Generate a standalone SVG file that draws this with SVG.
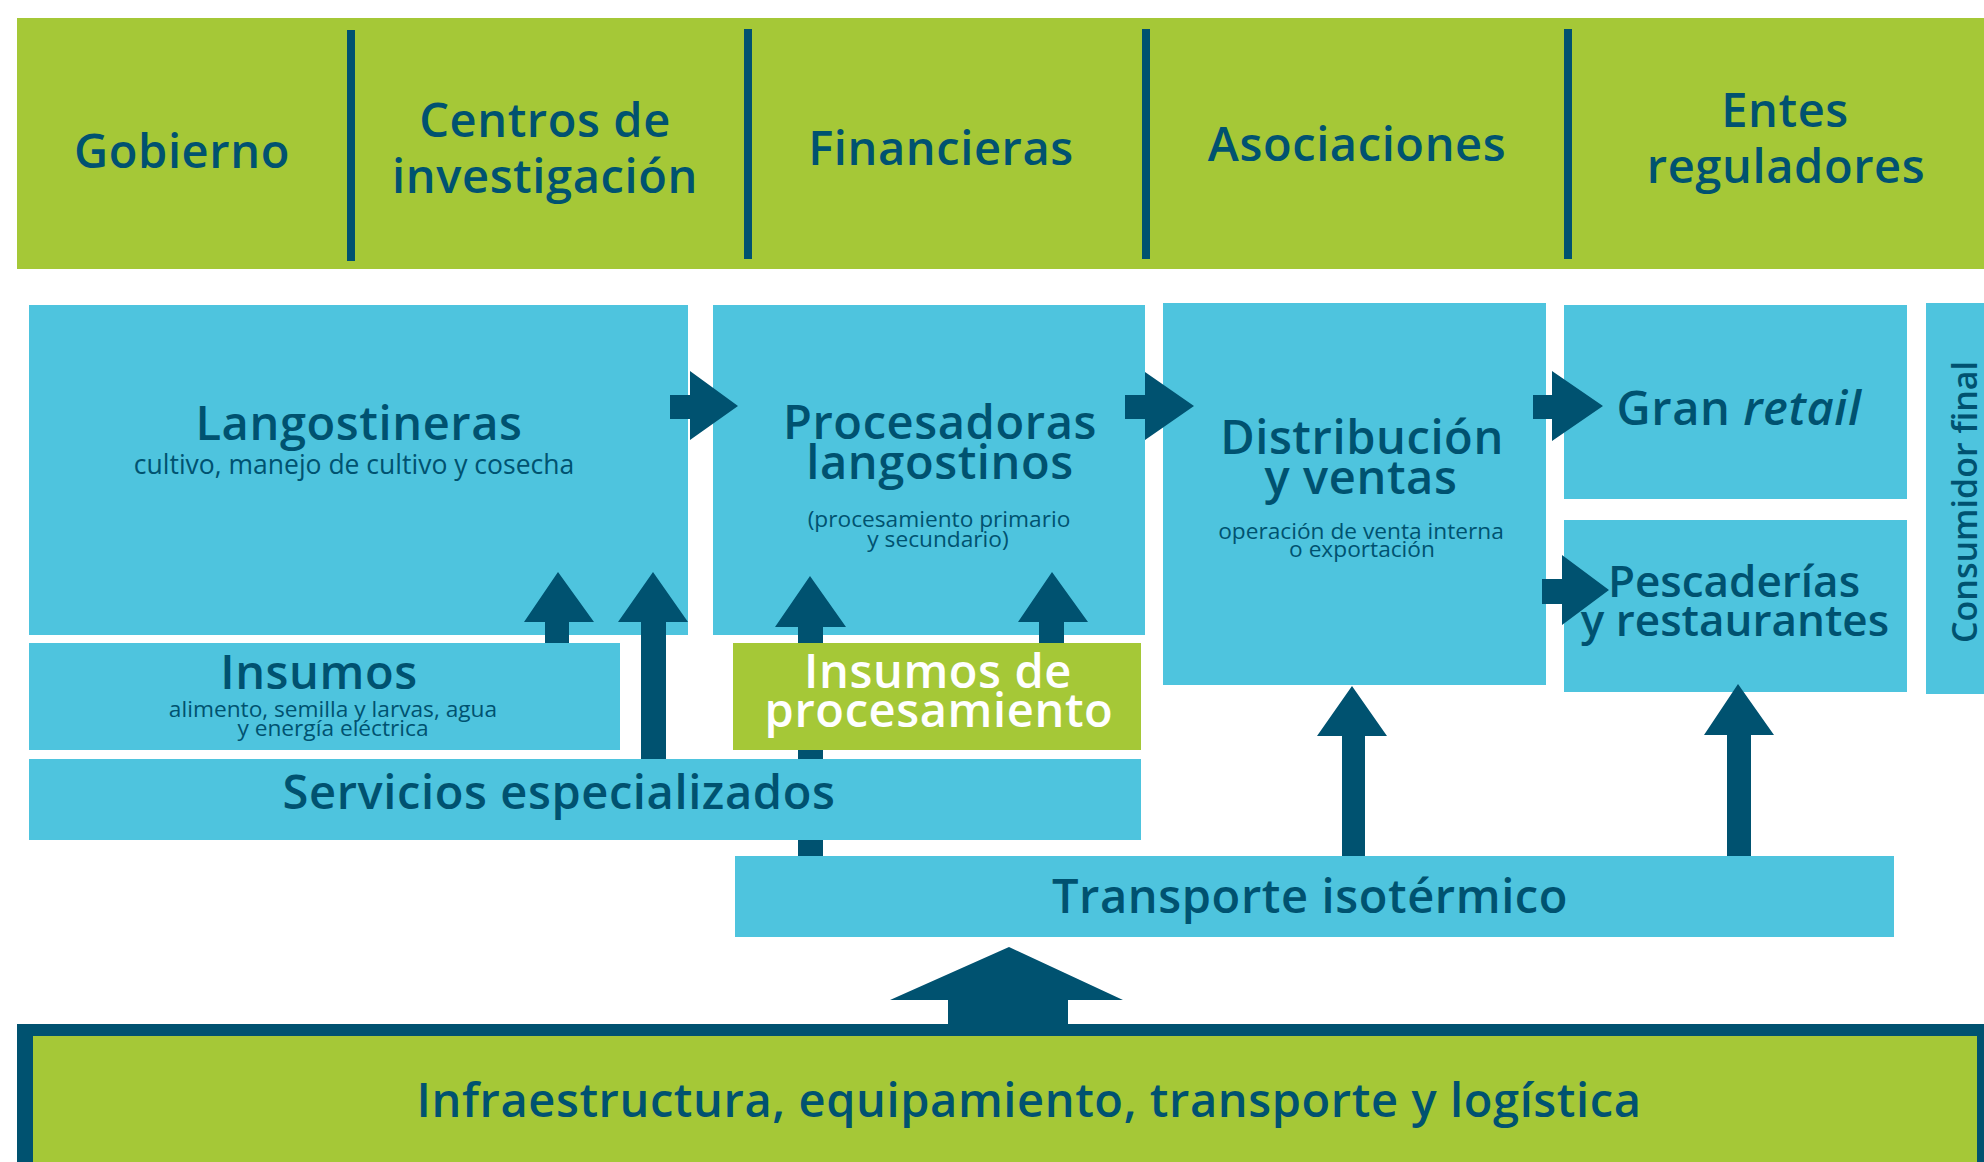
<svg xmlns="http://www.w3.org/2000/svg" width="1984" height="1162" viewBox="0 0 1984 1162">
<style>
.g{fill:#A5C837}
.c{fill:#4EC4DE}
.d{fill:#005270}
.t{font-family:"Open Sans","Noto Sans","Liberation Sans",sans-serif;font-weight:600;fill:#005270;text-anchor:middle}
.w{fill:#FFFFFF}
.s{font-family:"Open Sans","Noto Sans","Liberation Sans",sans-serif;font-weight:400;fill:#005270;text-anchor:middle}
.h{font-size:47px;letter-spacing:0.6px}
</style>
<rect x="0" y="0" width="1984" height="1162" fill="#FFFFFF"/>
<g id="actores">
<rect class="g" x="17" y="18" width="1967" height="251"/>
<rect class="d" x="347" y="30" width="8" height="231"/>
<rect class="d" x="744" y="29" width="8" height="230"/>
<rect class="d" x="1142" y="29" width="8" height="230"/>
<rect class="d" x="1564" y="29" width="8" height="230"/>
<text class="t h" x="182" y="168">Gobierno</text>
<text class="t h" x="545" y="137">Centros de<tspan x="545" dy="56">investigación</tspan></text>
<text class="t h" x="941" y="165">Financieras</text>
<text class="t h" x="1357" y="161">Asociaciones</text>
<text class="t h" x="1785" y="127">Entes<tspan x="1786" dy="56">reguladores</tspan></text>
</g>
<g id="langostineras">
<rect class="c" x="29" y="305" width="659" height="330"/>
<text class="t h" x="359" y="440">Langostineras</text>
<text class="s" x="354" y="474" font-size="26.5">cultivo, manejo de cultivo y cosecha</text>
</g>
<g id="procesadoras">
<rect class="c" x="713" y="305" width="432" height="330"/>
<text class="t h" x="940" y="439">Procesadoras<tspan x="940" dy="40">langostinos</tspan></text>
<text class="s" x="939" y="527" font-size="22.7">(procesamiento primario<tspan x="938" dy="20">y secundario)</tspan></text>
</g>
<g id="distribucion">
<rect class="c" x="1163" y="303" width="383" height="382"/>
<text class="t h" x="1362" y="454">Distribución<tspan x="1361" dy="40">y ventas</tspan></text>
<text class="s" x="1361" y="539" font-size="22.7">operación de venta interna<tspan x="1362" dy="18">o exportación</tspan></text>
</g>
<g id="gran-retail">
<rect class="c" x="1564" y="305" width="343" height="194"/>
<text class="t h" x="1739" y="425">Gran <tspan font-style="italic">retail</tspan></text>
</g>
<g id="pescaderias">
<rect class="c" x="1564" y="520" width="343" height="172"/>
<text class="t" font-size="44" x="1734" y="597">Pescaderías<tspan x="1735" dy="39">y restaurantes</tspan></text>
</g>
<g id="consumidor-final">
<rect class="c" x="1926" y="303" width="58" height="391"/>
<text class="t" font-size="34" transform="translate(1977,502) rotate(-90)">Consumidor final</text>
</g>
<g id="transporte">
<rect class="c" x="735" y="856" width="1159" height="81"/>
<text class="t h" x="1310" y="913">Transporte isotérmico</text>
</g>
<g id="infraestructura">
<rect class="d" x="17" y="1024" width="1967" height="150"/>
<rect class="g" x="33" y="1036" width="1944" height="140"/>
<text class="t h" x="1029" y="1117">Infraestructura, equipamiento, transporte y logística</text>
</g>
<g id="connectors" class="d">
<polygon points="670,395 690,395 690,371 738,406 690,440 690,419 670,419"/>
<polygon points="1125,395 1145,395 1145,372 1194,406 1145,440 1145,419 1125,419"/>
<polygon points="1533,395 1552,395 1552,371 1603,406 1552,441 1552,419 1533,419"/>
<polygon points="1542,579 1562,579 1562,555 1609,590 1562,625 1562,604 1542,604"/>
<polygon points="545,643 545,622 524,622 558,572 594,622 569,622 569,643"/>
<polygon points="641,759 641,622 618,622 653,572 688,622 666,622 666,759"/>
<polygon points="798,856 798,627 775,627 810,576 846,627 823,627 823,856"/>
<polygon points="1039,643 1039,622 1018,622 1052,572 1088,622 1064,622 1064,643"/>
<polygon points="1342,856 1342,736 1317,736 1352,686 1387,736 1365,736 1365,856"/>
<polygon points="1727,856 1727,735 1704,735 1738,684 1774,735 1751,735 1751,856"/>
<polygon points="948,1024 948,1000 890,1000 1009,947 1123,1000 1068,1000 1068,1024"/>
</g>
<g id="insumos">
<rect class="c" x="29" y="643" width="591" height="107"/>
<text class="t h" x="319" y="689">Insumos</text>
<text class="s" x="333" y="717" font-size="22.7">alimento, semilla y larvas, agua<tspan x="333" dy="19">y energía eléctrica</tspan></text>
</g>
<g id="insumos-procesamiento">
<rect class="g" x="733" y="643" width="408" height="107"/>
<text class="t h w" x="938" y="688">Insumos de<tspan x="939" dy="39">procesamiento</tspan></text>
</g>
<g id="servicios">
<rect class="c" x="29" y="759" width="1112" height="81"/>
<text class="t h" x="559" y="809">Servicios especializados</text>
</g>
</svg>
